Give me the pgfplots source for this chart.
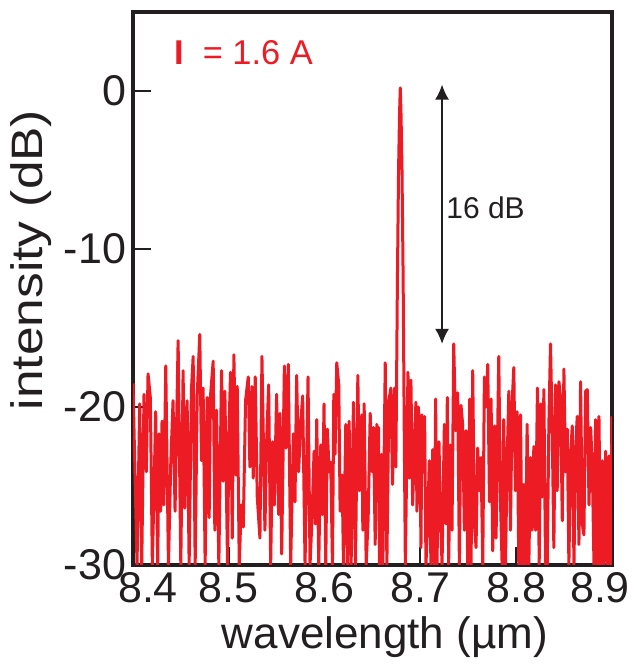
\documentclass[border=0pt]{standalone}
\usepackage{fontspec}
\setmainfont{Liberation Sans}
\usepackage{pgfplots}
\pgfplotsset{compat=1.18}
\usetikzlibrary{arrows.meta}
\definecolor{specred}{RGB}{237,28,36}
\definecolor{axblack}{RGB}{35,31,32}

\begin{document}
\begin{tikzpicture}
\begin{axis}[
  name=ax,
  scale only axis,
  width=239.5pt, height=276.5pt,
  xmin=8.4, xmax=8.9, ymin=-30, ymax=5,
  axis line style={line width=2pt, axblack},
  xtick={8.4,8.5,8.6,8.7,8.8,8.9},
  xticklabels={{}, 8.5, 8.6, 8.7, 8.8, {}},
  ytick={-30,-20,-10,0},
  yticklabels={-30,-20,-10,0},
  tick align=inside, xtick pos=bottom, ytick pos=left,
  major tick length=9pt,
  tick style={line width=1pt, axblack},
  ticklabel style={font=\fontsize{21.5}{21.5}\selectfont, text=axblack},
  xlabel={wavelength (µm)}, ylabel={intensity (dB)},
  label style={font=\fontsize{22}{22}\selectfont, text=axblack},
  xlabel style={at={(axis description cs:0.526,-0.130)}, anchor=center},
  ylabel style={at={(axis description cs:-0.213,0.5515)}, anchor=center, xscale=1.17},
]
\addplot[specred, line width=1.5pt, line join=round] table {
x y
8.4000 -18.5
8.4042 -30
8.4070 -19.8
8.4091 -30
8.4115 -19.2
8.4139 -24.1
8.4157 -17.9
8.4181 -19.4
8.4202 -30
8.4237 -20.3
8.4258 -30
8.4272 -21.7
8.4289 -26.6
8.4303 -20.9
8.4321 -26.2
8.4342 -17.4
8.4370 -30
8.4394 -23.6
8.4418 -19.6
8.4439 -26.6
8.4471 -15.8
8.4499 -30
8.4523 -17.7
8.4540 -26.4
8.4565 -19.6
8.4586 -30
8.4610 -18.9
8.4628 -16.8
8.4649 -30
8.4670 -19.3
8.4697 -15.4
8.4715 -23.4
8.4732 -18.8
8.4753 -30
8.4774 -19.4
8.4795 -27.0
8.4809 -19.3
8.4837 -17.1
8.4854 -27.8
8.4872 -20.2
8.4896 -30
8.4924 -17.7
8.4941 -24.7
8.4959 -19.0
8.4987 -30
8.5001 -21.7
8.5018 -17.8
8.5036 -28.3
8.5053 -16.7
8.5074 -24.3
8.5088 -18.7
8.5109 -30
8.5130 -26.2
8.5151 -27.6
8.5175 -19.6
8.5203 -18.1
8.5220 -23.8
8.5241 -18.7
8.5255 -24.5
8.5276 -18.1
8.5297 -25.7
8.5325 -28.3
8.5346 -16.8
8.5377 -27.8
8.5395 -22.2
8.5416 -18.6
8.5437 -30
8.5457 -22.2
8.5475 -26.2
8.5499 -19.2
8.5520 -26.8
8.5534 -20.4
8.5552 -29.3
8.5580 -17.4
8.5597 -22.6
8.5621 -17.3
8.5646 -30
8.5674 -21.7
8.5691 -26.0
8.5708 -18.0
8.5729 -24.1
8.5750 -21.1
8.5771 -19.3
8.5796 -30
8.5827 -18.1
8.5848 -30
8.5869 -27.0
8.5890 -22.8
8.5904 -27.4
8.5918 -20.8
8.5939 -30
8.5960 -22.4
8.5977 -26.8
8.5994 -19.8
8.6012 -30
8.6029 -21.4
8.6047 -24.1
8.6064 -23.5
8.6082 -30
8.6096 -19.2
8.6109 -23.0
8.6127 -17.2
8.6148 -18.6
8.6162 -26.6
8.6183 -24.3
8.6197 -30
8.6221 -21.1
8.6239 -30
8.6256 -20.9
8.6277 -30
8.6301 -19.7
8.6322 -30
8.6347 -18.0
8.6364 -25.3
8.6388 -20.5
8.6399 -27.8
8.6413 -19.8
8.6434 -30
8.6455 -27.0
8.6476 -20.4
8.6497 -24.1
8.6511 -21.3
8.6528 -28.7
8.6545 -21.1
8.6555 -23.0
8.6563 -21.3
8.6573 -30
8.6594 -23.0
8.6608 -30
8.6633 -17.2
8.6650 -30
8.6671 -19.6
8.6692 -18.8
8.6709 -24.9
8.6730 -18.8
8.6744 -23.8
8.6760 -12
8.6772 -5
8.6782 -1.5
8.6790 0.2
8.6798 -1.5
8.6808 -5
8.6820 -12
8.6832 -22
8.6843 -30
8.6870 -17.8
8.6887 -24.5
8.6901 -18.3
8.6919 -26.2
8.6936 -22.8
8.6953 -19.7
8.6964 -26.6
8.6978 -20.0
8.6992 -21.1
8.7006 -28.9
8.7016 -20.5
8.7030 -24.1
8.7044 -20.6
8.7058 -30
8.7075 -27.4
8.7093 -23.4
8.7110 -30
8.7128 -22.7
8.7145 -30
8.7159 -19.5
8.7173 -30
8.7194 -22.2
8.7208 -26.6
8.7226 -30
8.7250 -21.1
8.7267 -27.4
8.7281 -19.4
8.7295 -30
8.7313 -22.4
8.7330 -27.8
8.7348 -16.0
8.7368 -21.5
8.7389 -19.1
8.7407 -30
8.7424 -19.9
8.7441 -21.1
8.7459 -27.8
8.7476 -21.5
8.7494 -30
8.7515 -19.5
8.7529 -30
8.7546 -17.7
8.7564 -27.4
8.7581 -28.9
8.7598 -22.6
8.7616 -25.3
8.7633 -23.2
8.7651 -30
8.7668 -18.1
8.7686 -20.0
8.7703 -17.3
8.7721 -26.0
8.7738 -19.5
8.7755 -29.1
8.7773 -21.2
8.7790 -28.3
8.7818 -16.8
8.7836 -26.0
8.7853 -30
8.7870 -20.8
8.7888 -30
8.7905 -23.6
8.7923 -19.0
8.7940 -27.8
8.7958 -19.7
8.7975 -17.5
8.7992 -25.3
8.8010 -20.3
8.8027 -30
8.8045 -20.5
8.8062 -30
8.8080 -24.9
8.8097 -30
8.8114 -21.1
8.8132 -30
8.8149 -23.2
8.8167 -27.8
8.8184 -22.5
8.8202 -27.8
8.8222 -18.8
8.8240 -30
8.8257 -19.8
8.8271 -25.7
8.8289 -18.9
8.8306 -30
8.8324 -30
8.8341 -21.1
8.8358 -16.0
8.8376 -21.5
8.8393 -28.9
8.8411 -18.6
8.8428 -25.3
8.8446 -18.4
8.8463 -19.4
8.8481 -27.2
8.8498 -17.6
8.8515 -24.1
8.8533 -21.4
8.8550 -30
8.8568 -23.0
8.8585 -21.2
8.8603 -30
8.8620 -22.6
8.8637 -20.6
8.8655 -28.7
8.8672 -18.4
8.8690 -27.4
8.8707 -28.1
8.8725 -19.0
8.8742 -18.9
8.8760 -26.2
8.8777 -21.3
8.8794 -23.6
8.8812 -30
8.8829 -20.8
8.8847 -30
8.8864 -20.6
8.8882 -30
8.8899 -23.4
8.8916 -30
8.8934 -22.8
8.8951 -30
8.8969 -23.1
8.8986 -30
8.9000 -20.6
};
% annotations
\node[anchor=west, text=specred, font=\fontsize{17.2}{17.2}\selectfont, inner sep=0pt]
  at (axis cs:8.4425,2.45) {{\bfseries I}\ \ = 1.6 A};
\draw[axblack, line width=0.7pt, {Latex[length=7.5pt,width=7pt]}-{Latex[length=7.5pt,width=7pt]}]
  (axis cs:8.7226,0.4) -- (axis cs:8.7226,-16.0);
\node[anchor=west, text=axblack, font=\fontsize{15}{15}\selectfont, inner sep=0pt]
  at (axis cs:8.7267,-7.4) {16 dB};
\end{axis}
% end tick labels, shifted inwards as in the original
\node[anchor=north, font=\fontsize{21.5}{21.5}\selectfont, text=axblack] at ([xshift=7.5pt]ax.south west) {8.4};
\node[anchor=north, font=\fontsize{21.5}{21.5}\selectfont, text=axblack] at ([xshift=-6pt]ax.south east) {8.9};
\path ([shift={(-66.5pt,-51pt)}]ax.south west) rectangle ([shift={(6pt,6pt)}]ax.north east);
\end{tikzpicture}
\end{document}
